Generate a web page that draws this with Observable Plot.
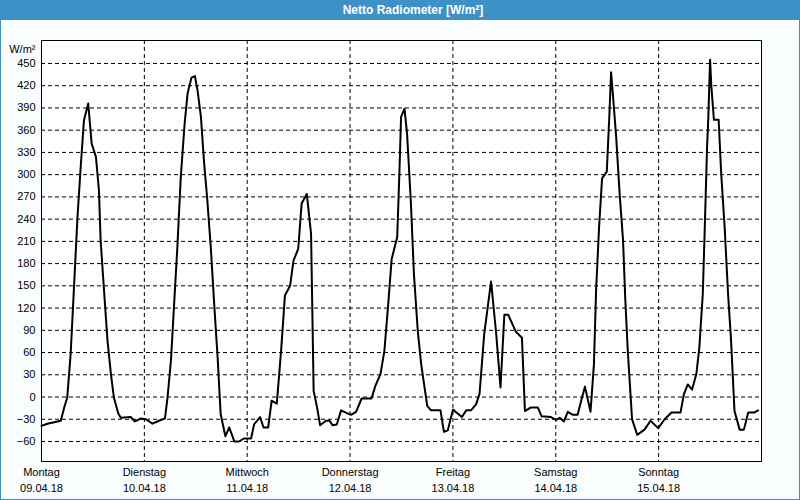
<!DOCTYPE html>
<html>
<head>
<meta charset="utf-8">
<script src="https://cdn.jsdelivr.net/npm/d3@7"></script>
<script src="https://cdn.jsdelivr.net/npm/@observablehq/plot@0.6"></script>
<style>
  html, body { margin: 0; padding: 0; background: #fafdfd; }
  #wrap { position: absolute; left: 0; top: 0; width: 798px; height: 499px;
          border: 1px solid #3d91c6; border-top: none; background: #fafdfd;
          font-family: "Liberation Sans", Arial, sans-serif; }
  #title { height: 20px; background: #3d91c6; color: #fff; font-weight: bold;
           font-size: 12px; line-height: 21px; text-align: center; padding-left: 26px; box-sizing: border-box; }
  #chart svg { display: block; }
</style>
</head>
<body>
<div id="wrap"><div id="title"></div><div id="chart"></div></div>
<script>
const chartTitle = "Netto Radiometer [W/m²]";
const unitLabel = "W/m²";
const startUTC = Date.UTC(2018, 3, 9);
const dayNames = ["Montag", "Dienstag", "Mittwoch", "Donnerstag", "Freitag", "Samstag", "Sonntag"];
const dayDates = ["09.04.18", "10.04.18", "11.04.18", "12.04.18", "13.04.18", "14.04.18", "15.04.18"];
const yTicks = [-60, -30, 0, 30, 60, 90, 120, 150, 180, 210, 240, 270, 300, 330, 360, 390, 420, 450];

// hours since 09.04.18 00:00
const hours = [0,1.4,4.5,5.3,6.0,6.8,7.6,8.4,9.2,9.9,
  10.9,11.7,12.7,13.4,13.8,14.6,15.4,16.2,16.9,17.9,
  18.5,20.8,21.8,23.2,24.3,25.9,27.4,28.8,29.4,30.2,
  30.9,31.7,32.5,33.4,34.1,35.0,35.8,36.4,37.2,37.9,
  38.7,39.5,40.3,41.1,41.8,42.9,43.8,45.0,46.1,47.2,
  48.9,49.6,51.0,51.8,52.9,53.7,54.9,55.9,56.8,58.0,
  58.8,59.9,60.7,61.9,62.9,63.5,64.3,65.0,66.4,67.2,
  67.9,68.9,69.9,71.0,72.2,73.4,74.7,77.0,77.9,79.1,
  80.0,80.9,81.7,83.0,83.5,83.9,84.7,85.3,86.2,86.9,
  87.8,88.6,90.0,90.9,93.1,93.9,94.8,96.0,98.1,99.1,
  100.2,101.4,102.2,103.3,104.9,106.1,107.1,108.0,108.9,110.7,
  112.1,112.8,114.2,115.8,116.7,118.9,120.1,120.9,121.9,122.8,
  124.0,125.1,126.1,126.8,128.1,128.9,129.4,130.1,130.8,131.9,
  132.5,132.9,133.3,134.1,134.9,135.7,136.2,136.8,137.8,139.0,
  140.7,142.1,143.9,145.4,147.0,149.1,149.9,150.8,151.8,152.8,
  153.5,154.3,154.7,155.3,155.6,156.0,156.3,156.9,158.0,158.6,
  159.4,160.2,160.9,161.7,162.9,163.9,164.9,166.3,167.2];

const watts = [-39,-36,-32,-14,-1,58,150,243,315,373,
  396,342,324,279,211,143,76,31,-1,-22,
  -28,-27,-33,-29,-30,-36,-32,-29,-1,49,
  121,202,297,369,410,431,433,414,378,319,
  265,202,125,53,-23,-53,-41,-60,-60,-56,
  -56,-37,-27,-41,-41,-5,-9,62,137,150,
  184,200,261,274,220,8,-14,-38,-32,-32,
  -38,-37,-18,-21,-24,-20,-2,-2,15,31,
  62,125,186,216,301,378,389,355,261,166,
  89,44,-12,-18,-18,-47,-45,-17,-27,-18,
  -18,-10,4,85,156,85,13,111,111,88,
  80,-19,-14,-14,-26,-27,-31,-28,-33,-20,
  -24,-24,-1,14,-20,44,143,229,295,304,
  380,438,410,350,274,211,134,62,-30,-51,
  -44,-32,-42,-30,-21,-21,4,17,10,31,
  67,139,216,337,378,455,419,374,374,301,
  229,139,76,-19,-44,-44,-21,-21,-18];

document.getElementById("title").textContent = chartTitle;

const HOUR = 3600e3, DAY = 86400e3;
const data = hours.map((h, i) => ({t: new Date(startUTC + h * HOUR), v: watts[i]}));
const days = dayNames.map((n, i) => ({t: new Date(startUTC + i * DAY), name: n, date: dayDates[i]}));
const innerDays = days.slice(1).map(d => d.t);

const chart = Plot.plot({
  width: 798,
  height: 479,
  marginLeft: 40,
  marginRight: 38,
  marginTop: 20,
  marginBottom: 38,
  style: {fontFamily: "'Liberation Sans', Arial, sans-serif", fontSize: "11px", color: "#000", background: "#fafdfd"},
  x: {type: "utc", domain: [new Date(startUTC), new Date(startUTC + 7 * DAY)], axis: null},
  y: {domain: [-87, 481], label: null},
  marks: [
    Plot.frame({fill: "#ffffff", stroke: "none"}),
    Plot.gridY(yTicks, {stroke: "#000", strokeOpacity: 1, strokeDasharray: "4,3"}),
    Plot.gridX(innerDays, {stroke: "#000", strokeOpacity: 1, strokeDasharray: "4,3"}),
    Plot.line(data, {x: "t", y: "v", stroke: "#000", strokeWidth: 2}),
    Plot.frame({stroke: "#000", strokeWidth: 1}),
    Plot.axisY(yTicks, {tickSize: 0, tickPadding: 6, label: null}),
    Plot.text([unitLabel], {frameAnchor: "top-left", textAnchor: "end", dx: -6, dy: 5}),
    Plot.text(days, {x: "t", text: "name", frameAnchor: "bottom", dy: 14}),
    Plot.text(days, {x: "t", text: "date", frameAnchor: "bottom", dy: 30})
  ]
});
document.getElementById("chart").appendChild(chart);
</script>
</body>
</html>
